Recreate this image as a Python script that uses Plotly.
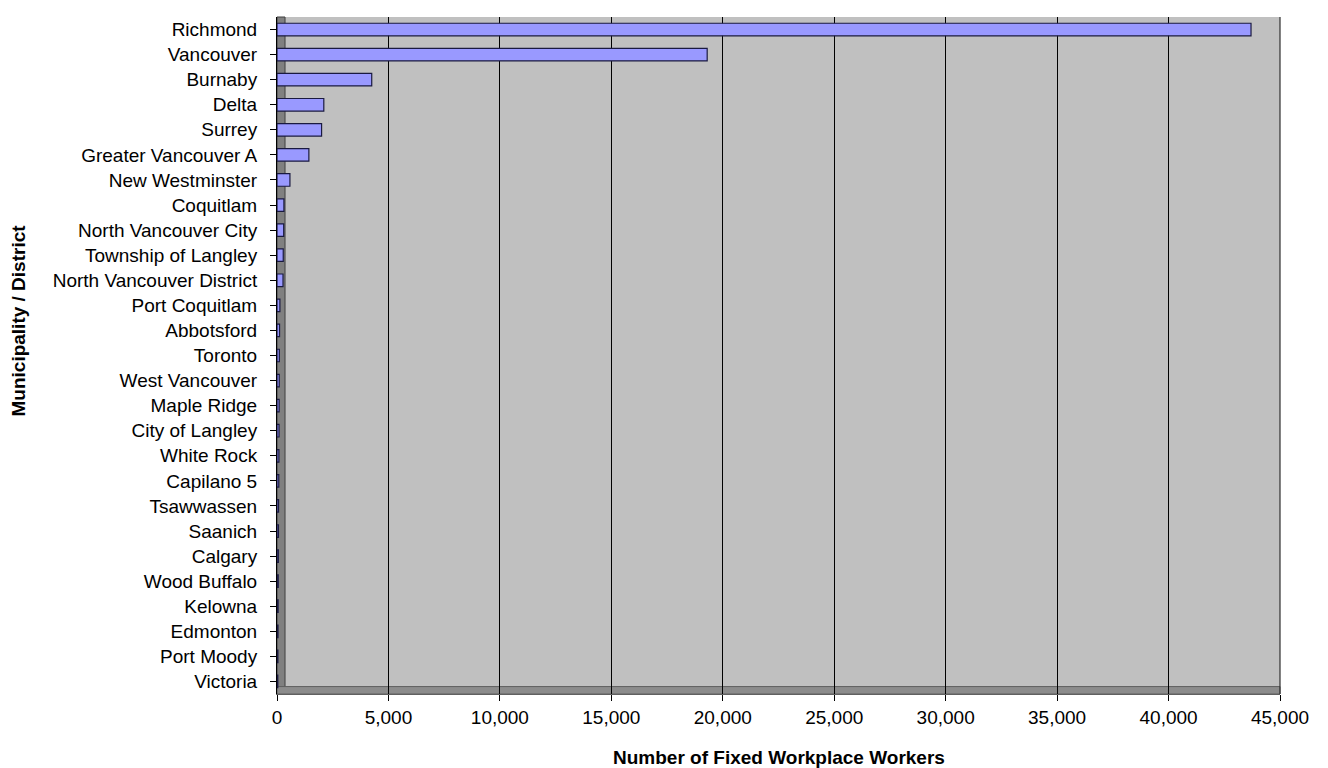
import plotly.graph_objects as go

municipalities = [
    "Richmond", "Vancouver", "Burnaby", "Delta", "Surrey", "Greater Vancouver A",
    "New Westminster", "Coquitlam", "North Vancouver City", "Township of Langley",
    "North Vancouver District", "Port Coquitlam", "Abbotsford", "Toronto",
    "West Vancouver", "Maple Ridge", "City of Langley", "White Rock", "Capilano 5",
    "Tsawwassen", "Saanich", "Calgary", "Wood Buffalo", "Kelowna", "Edmonton",
    "Port Moody", "Victoria",
]
workers = [
    43700, 19300, 4250, 2100, 2000, 1430,
    580, 310, 300, 280,
    270, 130, 115, 105,
    100, 95, 90, 85, 80,
    70, 65, 60, 55, 50, 45,
    40, 35,
]
x_ticks = [0, 5000, 10000, 15000, 20000, 25000, 30000, 35000, 40000, 45000]
x_tick_labels = ["0", "5,000", "10,000", "15,000", "20,000", "25,000",
                 "30,000", "35,000", "40,000", "45,000"]

font_family = "Liberation Sans, Arial, sans-serif"
FS = 19

fig = go.Figure()
fig.add_trace(go.Bar(
    x=workers,
    y=municipalities,
    orientation="h",
    marker=dict(color="#9999FF", line=dict(color="#1a1a40", width=1.2)),
    width=0.5,
    hovertemplate="%{y}: %{x:,}<extra></extra>",
))

# decorative 3D walls (left wall, floor, right edge) in axis-domain coordinates
fig.add_shape(type="rect", xref="x domain", yref="y domain",
              x0=0, x1=0.008, y0=0, y1=1, fillcolor="#808080",
              line=dict(color="#404040", width=1), layer="below")
fig.add_shape(type="rect", xref="x domain", yref="y domain",
              x0=0, x1=1, y0=0, y1=0.011, fillcolor="#8c8c8c",
              line=dict(color="#606060", width=1), layer="below")
fig.add_shape(type="line", xref="x domain", yref="y domain",
              x0=1, x1=1, y0=0, y1=1, line=dict(color="#303030", width=1.2))

fig.update_layout(
    width=1328, height=768,
    margin=dict(l=277, r=48, t=17, b=74),
    paper_bgcolor="white",
    plot_bgcolor="#C0C0C0",
    font=dict(family=font_family, size=FS, color="black"),
    showlegend=False,
    xaxis=dict(
        range=[0, 45000],
        tickvals=x_ticks,
        ticktext=x_tick_labels,
        showgrid=True, gridcolor="black", gridwidth=1,
        zeroline=False,
        ticks="outside", ticklen=6, tickcolor="black",
        showline=True, linecolor="#606060",
        tickfont=dict(size=FS),
        automargin=False,
        ticklabelstandoff=0,
    ),
    yaxis=dict(
        categoryorder="array",
        categoryarray=municipalities[::-1],
        autorange=False,
        range=[-0.5, len(municipalities) - 0.5],
        ticks="outside", ticklen=6, tickcolor="black",
        showline=True, linecolor="black",
        showgrid=False,
        tickfont=dict(size=FS),
        automargin=False,
        ticklabelstandoff=9,
    ),
    annotations=[
        dict(text="<b>Number of Fixed Workplace Workers</b>",
             xref="paper", yref="paper", x=0.5, y=-0.094,
             xanchor="center", yanchor="middle", showarrow=False,
             font=dict(size=FS)),
        dict(text="<b>Municipality / District</b>",
             xref="paper", yref="paper", x=-0.2577, y=0.551,
             xanchor="center", yanchor="middle", showarrow=False,
             textangle=-90, font=dict(size=FS)),
    ],
)

fig.write_html(
    "out.html",
    config={"displayModeBar": False},
    post_script="document.body.style.margin='0px';document.body.style.overflow='hidden';",
)
